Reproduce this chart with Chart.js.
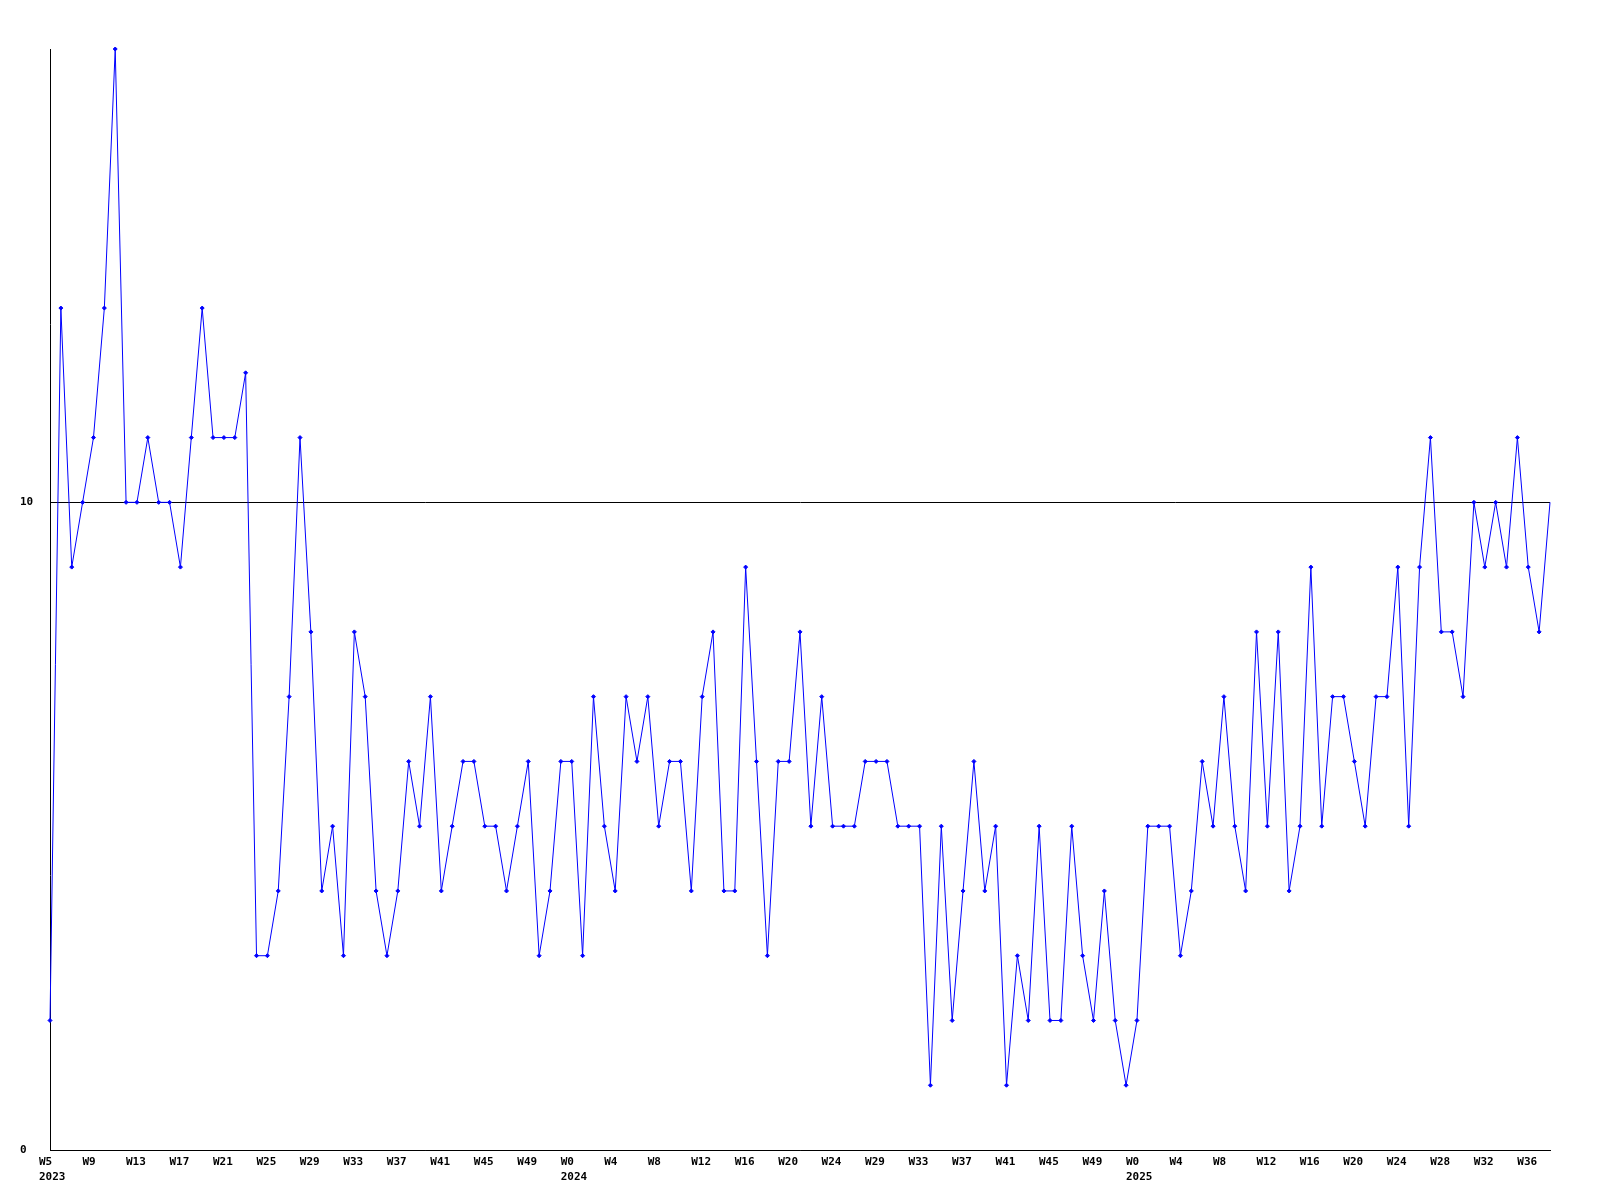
<!DOCTYPE html>
<html>
<head>
<meta charset="utf-8">
<script src="https://cdn.jsdelivr.net/npm/chart.js@4/dist/chart.umd.min.js"></script>
<style>
  html, body { margin: 0; padding: 0; background: #fff; }
  #wrap { width: 1600px; height: 1200px; }
</style>
</head>
<body>
<div id="wrap"><canvas id="chart_weekly" width="1600" height="1200"></canvas></div>
<script>
// weekly counts, one value per week (W5 2023 .. W38 2025)
const weeklyCounts = [
    2, 13, 9, 10, 11, 13, 17, 10, 10, 11,
    10, 10, 9, 11, 13, 11, 11, 11, 12, 3,
    3, 4, 7, 11, 8, 4, 5, 3, 8, 7,
    4, 3, 4, 6, 5, 7, 4, 5, 6, 6,
    5, 5, 4, 5, 6, 3, 4, 6, 6, 3,
    7, 5, 4, 7, 6, 7, 5, 6, 6, 4,
    7, 8, 4, 4, 9, 6, 3, 6, 6, 8,
    5, 7, 5, 5, 5, 6, 6, 6, 5, 5,
    5, 1, 5, 2, 4, 6, 4, 5, 1, 3,
    2, 5, 2, 2, 5, 3, 2, 4, 2, 1,
    2, 5, 5, 5, 3, 4, 6, 5, 7, 5,
    4, 8, 5, 8, 4, 5, 9, 5, 7, 7,
    6, 5, 7, 7, 9, 5, 9, 11, 8, 8,
    7, 10, 9, 10, 9, 11, 9, 8, 10
];

// a week label is printed every 4th week
const weekTicks = [
    'W5', 'W9', 'W13', 'W17', 'W21', 'W25', 'W29', 'W33', 'W37', 'W41', 'W45', 'W49',
    'W0', 'W4', 'W8', 'W12', 'W16', 'W20', 'W24', 'W29', 'W33', 'W37', 'W41', 'W45', 'W49',
    'W0', 'W4', 'W8', 'W12', 'W16', 'W20', 'W24', 'W28', 'W32', 'W36'
];
const tickEvery = 4;
const yearTickIndex = [0, 12, 25];
const yearLabels = ['2023', '2024', '2025'];

const yTickValues = [0, 10];

const labels = weeklyCounts.map((v, i) => {
    if (i % tickEvery !== 0) return '';
    const t = i / tickEvery;
    const y = yearTickIndex.indexOf(t);
    return y >= 0 ? [weekTicks[t], yearLabels[y]] : weekTicks[t];
});

const tickFont = { family: '"DejaVu Sans Mono", monospace', size: 11, weight: 'bold', lineHeight: 1.4 };

new Chart(
    document.getElementById('chart_weekly'),
    {
        type: 'line',
        data: {
            labels: labels,
            datasets: [
                {
                    label: 'Count',
                    data: weeklyCounts,
                    borderColor: '#0000ff',
                    backgroundColor: '#0000ff',
                    borderWidth: 1,
                    tension: 0,
                    pointStyle: 'rectRot',
                    pointRadius: ctx => ctx.dataIndex === weeklyCounts.length - 1 ? 0 : 2,
                    pointBorderWidth: 1,
                    pointBorderColor: '#0000ff',
                    pointBackgroundColor: '#0000ff',
                    clip: false
                }
            ]
        },
        options: {
            responsive: false,
            animation: false,
            layout: { padding: { left: 20, right: 50, top: 49, bottom: 0 } },
            plugins: {
                legend: { display: false },
                tooltip: { enabled: false }
            },
            scales: {
                x: {
                    offset: false,
                    grid: { display: false, drawTicks: false },
                    border: { display: true, color: '#000', width: 1 },
                    ticks: {
                        autoSkip: false,
                        maxRotation: 0,
                        minRotation: 0,
                        align: 'start',
                        labelOffset: -11,
                        padding: 4,
                        color: '#000',
                        font: tickFont
                    },
                    afterFit: scale => { scale.height = 50; }
                },
                y: {
                    min: 0,
                    max: 17,
                    afterBuildTicks: scale => { scale.ticks = yTickValues.map(v => ({ value: v })); },
                    grid: { color: '#000', lineWidth: 1, drawTicks: false },
                    border: { display: true, color: '#000', width: 1 },
                    ticks: {
                        crossAlign: 'far',
                        color: '#000',
                        font: tickFont
                    },
                    afterFit: scale => { scale.width = 30; }
                }
            }
        }
    }
);
</script>
</body>
</html>
